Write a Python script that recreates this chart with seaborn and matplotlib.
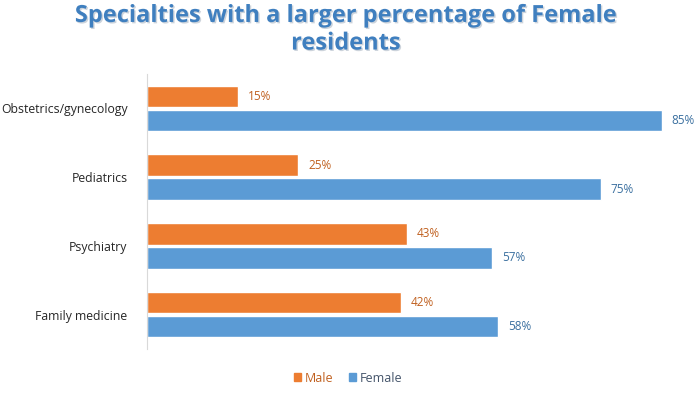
import seaborn as sns
import matplotlib.pyplot as plt
import matplotlib.patheffects as pe
import pandas as pd

specialties = ['Obstetrics/gynecology', 'Pediatrics', 'Psychiatry', 'Family medicine']
male = [15, 25, 43, 42]
female = [85, 75, 57, 58]
groups = ['Male', 'Female']

df = pd.DataFrame({
    'Specialty': specialties * 2,
    'Percent': male + female,
    'Sex': ['Male'] * len(male) + ['Female'] * len(female),
})

sns.set_style('white')
plt.rcParams['font.family'] = ['Open Sans', 'DejaVu Sans']

bar_colors = {'Male': '#ED7D31', 'Female': '#5B9BD5'}
text_colors = {'Male': '#C0601F', 'Female': '#3A6F9F'}

fig = plt.figure(figsize=(6.96, 3.96), dpi=100)
ax = fig.add_axes([0.211, 0.119, 0.783, 0.694])

sns.barplot(data=df, y='Specialty', x='Percent', hue='Sex', hue_order=groups,
            order=specialties, palette=bar_colors, orient='h', width=0.7, gap=0.1,
            ax=ax, legend=False, saturation=1)

for cont, g in zip(ax.containers, groups):
    ax.bar_label(cont, labels=[f'{v:.0f}%' for v in cont.datavalues], padding=7,
                 fontsize=8.5, color=text_colors[g])

ax.set_xlim(0, 90)
ax.set_ylim(3.5, -0.5)
ax.set_xlabel('')
ax.set_ylabel('')
ax.set_xticks([])
ax.tick_params(axis='y', length=0, pad=14, labelsize=8.8)
for s in ['top', 'right', 'bottom']:
    ax.spines[s].set_visible(False)
ax.spines['left'].set_color('#D9D9D9')
ax.spines['left'].set_linewidth(0.8)

fig.text(0.497, 0.99, 'Specialties with a larger percentage of Female\nresidents',
         ha='center', va='top', fontsize=17, fontweight='bold', color='#3F7FBF',
         linespacing=1.2,
         path_effects=[pe.withSimplePatchShadow(offset=(1, -1), shadow_rgbFace='#9AA8B8', alpha=0.5)])

handles = [plt.Rectangle((0, 0), 1, 1, color=bar_colors[g]) for g in groups]
fig.legend(handles, groups, loc='center', bbox_to_anchor=(0.5, 0.045), ncol=2,
           frameon=False, fontsize=9, handlelength=0.6, handleheight=0.6,
           handletextpad=0.3, columnspacing=1.2,
           labelcolor=[text_colors['Male'], '#44546A'])

fig.savefig('out.png', dpi=100)
